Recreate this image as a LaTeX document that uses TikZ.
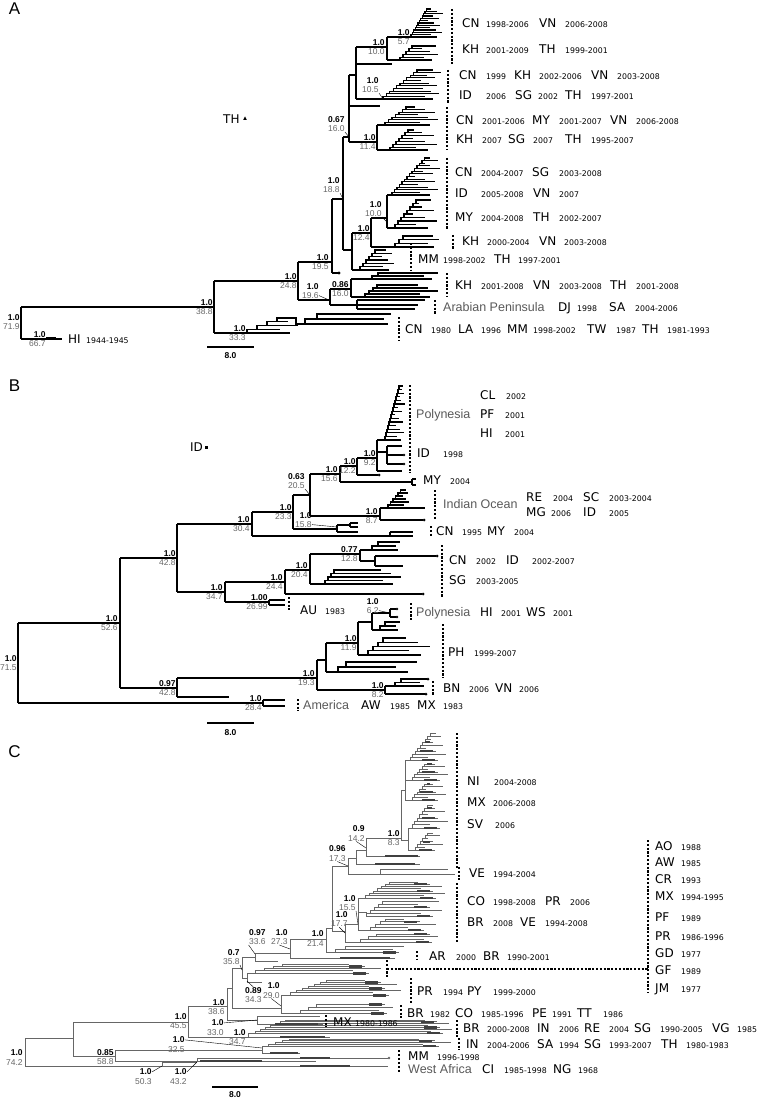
\documentclass[tikz,border=0pt]{standalone}
\usepackage{fontspec}
\setmainfont{Liberation Sans}
\newfontfamily\codefont{DejaVu Sans}

\definecolor{agegray}{gray}{0.4}
\definecolor{regiongray}{gray}{0.35}
\definecolor{treegray}{gray}{0.4}
\definecolor{bargray}{gray}{0.25}

\tikzset{
  branch/.style={line width=1.1pt},
  clade/.style={line width=1.1pt, dash pattern=on 2.2pt off 1.6pt},
  leader/.style={line width=0.4pt},
  code/.style={font=\codefont\fontsize{12}{12}\selectfont, anchor=base west, inner sep=0pt},
  year/.style={font=\codefont\fontsize{7.8}{8}\selectfont, anchor=base west, inner sep=0pt},
  region/.style={font=\fontsize{12.5}{13}\selectfont, text=regiongray, anchor=base west, inner sep=0pt},
  pp/.style={font=\bfseries\fontsize{8.5}{9}\selectfont, anchor=south east, inner sep=0.2pt},
  age/.style={font=\fontsize{8.5}{9}\selectfont, text=agegray, anchor=north east, inner sep=0.2pt},
  panel/.style={font=\fontsize{17}{17}\selectfont, inner sep=0pt},
  scalelbl/.style={font=\bfseries\fontsize{8.5}{9}\selectfont, inner sep=0pt}
}

\newcommand{\supp}[5]{%
  \node[pp] (#1) at (#2,#3-1.2) {#4};
  \node[age] (#1b) at (#2,#3+1.2) {#5};}

\newcommand{\row}[3]{%
  \foreach \px/\pc/\qx/\qy [count=\i] in {#3}{%
    \node[code] (#1c\i) at (\px,#2+4.4) {\pc};
    \node[year] (#1y\i) at (\qx,#2+4.4) {\qy};}}

\newcommand{\ladder}[8]{%
  \pgfmathsetmacro{\ldy}{(#3-#2)/(#4-1)}%
  \foreach \k in {1,...,#4}{%
    \pgfmathsetmacro{\lx}{#1+(\k-1)*#5}%
    \pgfmathsetmacro{\ly}{#2+(\k-1)*\ldy}%
    \pgfmathsetmacro{\lt}{max(\lx+3,#6-mod(\k*37,11)*#7/10)}%
    \draw[branch] (\lx,\ly) -- (\lt,\ly);
    \ifnum\k<#4\relax
      \draw[branch] (\lx,\ly) -- (\lx,\ly+\ldy) -- (\lx+#5,\ly+\ldy);
    \fi
    \pgfmathtruncatemacro{\lm}{mod(\k,3)}%
    \pgfmathsetmacro{\lb}{max(\lx,\lt-16)}%
    \ifdim #8pt>0pt\ifnum\lm=1\relax
      \draw[line width=#8pt, bargray] (\lb,\ly) -- (\lt-3,\ly);
    \fi\fi}}

\begin{document}
\begin{tikzpicture}[x=1pt,y=1pt,yscale=-1]
\useasboundingbox (0,0) rectangle (756,1099);

% A
\node[panel] (pA) at (14.5,9) {A};
\begin{scope}[branch/.style={line width=1.1pt}]
\draw[branch] (21,307) -- (21,339);
\draw[branch] (21,307) -- (214,307);
\draw[branch] (21,339) -- (62,339);
\draw[branch, line width=2.4pt] (46,338) -- (56,338);
\draw[branch] (214,281) -- (214,333);
\draw[branch] (214,333) -- (247,333);
\ladder{247}{333}{318}{5}{10}{300}{25}{0}
\draw[branch] (287,318) -- (296,318) -- (296,324) -- (305,324);
\ladder{305}{324}{314}{3}{12}{392}{10}{0}
\draw[branch] (214,281) -- (298,281);
\draw[branch] (298,262) -- (298,300);
\draw[branch] (298,300) -- (330,300);
\draw[branch] (330,289) -- (330,305);
\draw[branch] (330,305) -- (418,305);
\draw[branch] (357,300) -- (357,309);
\draw[branch] (357,300) -- (425,300);
\draw[branch] (357,309) -- (415,309);
\draw[branch] (330,289) -- (351,289);
\draw[branch] (351,279) -- (351,297);
\draw[branch] (351,279) -- (372,279);
\ladder{372}{279}{273}{3}{6}{440}{20}{0}
\draw[branch] (351,297) -- (365,297);
\ladder{365}{297}{285}{5}{4}{440}{25}{0}
\draw[branch] (298,262) -- (332,262);
\draw[branch] (332,199) -- (332,273);
\draw[branch] (332,273) -- (338,273);
\fill (339,273) circle (1.6pt);
\draw[branch] (332,199) -- (343,199);
\draw[branch] (343,137) -- (343,250);
\draw[branch] (343,137) -- (349,137);
\draw[branch] (349,75) -- (349,142);
\draw[branch] (349,106) -- (380,106);
\draw[branch] (349,75) -- (356,75);
\draw[branch] (356,47) -- (356,99);
\draw[branch] (356,64) -- (392,64);
\draw[branch] (356,47) -- (387,47);
\draw[branch] (387,37) -- (387,60);
\draw[branch] (387,37) -- (411,37);
\ladder{411}{37}{9}{13}{1.4}{443}{15}{0}
\draw[branch] (387,60) -- (400,60);
\ladder{400}{60}{46}{6}{3}{440}{20}{0}
\draw[branch] (356,99) -- (383,99);
\ladder{383}{99}{70}{12}{3.4}{441}{20}{0}
\draw[branch] (349,142) -- (377,142);
\draw[branch] (377,125) -- (377,150);
\draw[branch] (377,125) -- (385,125);
\ladder{385}{125}{107}{8}{3.5}{440}{25}{0}
\draw[branch] (377,150) -- (390,150);
\ladder{390}{150}{130}{8}{3}{440}{30}{0}
\draw[branch] (343,250) -- (352,250);
\draw[branch] (352,233) -- (352,270);
\draw[branch] (352,233) -- (371,233);
\draw[branch] (371,218) -- (371,247);
\draw[branch] (371,218) -- (387,218);
\draw[branch] (387,195) -- (387,228);
\draw[branch] (387,195) -- (392,195);
\ladder{392}{195}{158}{15}{2.5}{440}{25}{0}
\draw[branch] (387,228) -- (395,228);
\ladder{395}{228}{200}{9}{3}{440}{30}{0}
\draw[branch] (371,247) -- (395,247);
\ladder{395}{247}{236}{4}{4}{440}{15}{0}
\draw[branch] (352,270) -- (360,270);
\ladder{360}{270}{250}{7}{3}{395}{15}{0}
\end{scope}

\supp{a719}{20}{322}{1.0}{71.9}
\supp{a667}{46}{339}{1.0}{66.7}
\supp{a388}{213}{307}{1.0}{38.8}
\supp{a333}{246}{333}{1.0}{33.3}
\supp{a248}{297}{281}{1.0}{24.8}
\supp{a195}{329}{262}{1.0}{19.5}
\supp{a196}{319}{291}{1.0}{19.6}
\supp{a086}{349}{289}{0.86}{16.0}
\supp{a188}{340}{185}{1.0}{18.8}
\supp{a067}{345}{124}{0.67}{16.0}
\supp{a100}{385}{47}{1.0}{10.0}
\supp{a057}{410}{37.5}{1.0}{5.7}
\supp{a105}{379}{85}{1.0}{10.5}
\supp{a114}{376}{142}{1.0}{11.4}
\supp{a4n}{382}{209}{1.0}{10.0}
\supp{a124}{370}{233}{1.0}{12.4}
\coordinate (n196) at (329,300);
\coordinate (n188) at (343,199);
\coordinate (n067) at (349,137);
\coordinate (n105) at (383,99);
\coordinate (n4n) at (387,222);
\draw[leader] (a196b.east) -- (n196);
\draw[leader] (a188b.south east) -- (n188);
\draw[leader] (a067b.south east) -- (n067);
\draw[leader] (a105b.south east) -- (n105);
\draw[leader] (a4nb.south east) -- (n4n);

\node[code] (thmark) at (223,123.4) {TH};
\fill (245,116.5) -- (246.8,120) -- (243.2,120) -- cycle;

\draw[clade] (452,9) -- (452,65);
\draw[clade] (448,70) -- (448,103);
\draw[clade] (447,107) -- (447,150);
\draw[clade] (447,158) -- (447,229);
\draw[clade] (453,235) -- (453,249);
\draw[clade] (411,243) -- (411,270);
\draw[clade] (447,273) -- (447,297);
\draw[clade] (435,300) -- (435,315);
\draw[clade] (399,317) -- (399,340);

\row{ra1}{23}{462/CN/486/1998-2006, 539/VN/565/2006-2008}
\row{ra1b}{49}{462/KH/486/2001-2009, 539/TH/565/1999-2001}
\row{ra2}{75}{459/CN/486/1999, 514/KH/539/2002-2006, 591/VN/617/2003-2008}
\row{ra2b}{95}{459/ID/486/2006, 515/SG/538/2002, 565/TH/591/1997-2001}
\row{ra3}{120}{456/CN/482/2001-2006, 532/MY/559/2001-2007, 610/VN/636/2006-2008}
\row{ra3b}{139}{456/KH/482/2007, 508/SG/533/2007, 565/TH/591/1995-2007}
\row{ra4}{172}{455/CN/481/2004-2007, 532/SG/559/2003-2008}
\row{ra4b}{193}{455/ID/481/2005-2008, 533/VN/559/2007}
\row{ra4c}{217}{455/MY/481/2004-2008, 533/TH/559/2002-2007}
\row{ra5}{241}{462/KH/487/2000-2004, 539/VN/564/2003-2008}
\row{ra6}{259}{418/MM/443/1998-2002, 494/TH/518/1997-2001}
\row{ra7}{285}{455/KH/481/2001-2008, 533/VN/559/2003-2008, 610/TH/636/2001-2008}
\node[region] (arab) at (443,311.4) {Arabian Peninsula};
\row{ra8}{307}{558/DJ/577/1998, 609/SA/635/2004-2006}
\row{ra9}{329}{405/CN/431/1980, 458/LA/481/1996, 507/MM/533/1998-2002, 587/TW/616/1987, 642/TH/667/1981-1993}
\row{rahi}{339}{68/HI/86/1944-1945}

\draw[line width=1.2pt] (207,347) -- (254,347);
\node[scalelbl] (sA) at (230.5,356) {8.0};

% B
\node[panel] (pB) at (14.5,386) {B};
\begin{scope}[branch/.style={line width=1.2pt}]
\draw[branch] (18,623) -- (18,703);
\draw[branch] (18,623) -- (120,623);
\draw[branch] (120,558) -- (120,688);
\draw[branch] (18,703) -- (263,703);
\draw[branch] (263,700) -- (263,706);
\draw[branch] (263,700) -- (285,700);
\draw[branch] (263,706) -- (285,706);
\draw[branch] (120,558) -- (177,558);
\draw[branch] (177,524) -- (177,592);
\draw[branch] (120,688) -- (177,688);
\draw[branch] (177,678) -- (177,697);
\draw[branch] (177,697) -- (229,697);
\draw[branch] (177,678) -- (317,678);
\draw[branch] (317,660) -- (317,690);
\draw[branch] (317,690) -- (385,690);
\draw[branch] (385,686) -- (385,694);
\draw[branch] (385,686) -- (395,686);
\ladder{395}{686}{679}{3}{6}{428}{10}{0}
\draw[branch] (385,694) -- (425,694);
\fill (426,694) circle (1.5pt);
\fill (428,679) circle (1.5pt);
\draw[branch] (317,660) -- (326,660);
\draw[branch] (326,643) -- (326,672);
\draw[branch] (326,643) -- (358,643);
\draw[branch] (358,622) -- (358,655);
\draw[branch] (358,622) -- (372,622);
\draw[branch] (372,613) -- (372,630);
\draw[branch] (372,613) -- (390,613);
\draw[branch] (390,609) -- (390,617);
\draw[branch] (390,609) -- (396,609);
\draw[branch] (390,617) -- (396,617);
\fill (397,609) circle (1.4pt);
\fill (397,617) circle (1.4pt);
\draw[branch] (372,630) -- (380,630);
\ladder{380}{630}{622}{3}{5}{400}{5}{0}
\draw[branch] (358,655) -- (368,655);
\ladder{368}{655}{638}{5}{5}{433}{30}{0}
\draw[branch] (326,672) -- (338,672);
\ladder{338}{672}{662}{3}{8}{420}{30}{0}
\draw[branch] (177,524) -- (252,524);
\draw[branch] (252,512) -- (252,536);
\draw[branch] (252,536) -- (390,536);
\draw[branch] (390,532) -- (390,536);
\draw[branch] (390,532) -- (413,532);
\draw[branch] (390,536) -- (413,536);
\draw[branch] (252,512) -- (293,512);
\draw[branch] (293,495) -- (293,529);
\draw[branch] (293,529) -- (337,529);
\draw[branch] (337,525) -- (337,532);
\draw[branch] (337,525) -- (350,525);
\draw[branch] (350,523) -- (350,527);
\draw[branch] (350,523) -- (358,523);
\draw[branch] (350,527) -- (358,527);
\draw[branch] (337,532) -- (358,532);
\draw[branch] (293,495) -- (310,495);
\draw[branch] (310,474) -- (310,516);
\draw[branch] (310,516) -- (380,516);
\draw[branch] (380,508) -- (380,520);
\draw[branch] (380,520) -- (423,520);
\fill (424,520) circle (1.5pt);
\draw[branch] (380,508) -- (425,508);
\ladder{388}{508}{490}{7}{2.5}{410}{8}{0}
\draw[branch] (310,474) -- (340,474);
\draw[branch] (340,466) -- (340,482);
\draw[branch] (340,482) -- (412,482);
\draw[branch] (412,479) -- (412,485);
\draw[branch] (412,479) -- (416,479);
\draw[branch] (412,485) -- (416,485);
\draw[branch] (340,466) -- (357,466);
\draw[branch] (357,458) -- (357,475);
\draw[branch] (357,475) -- (378,475);
\fill (379,475) circle (1.5pt);
\draw[branch] (357,458) -- (377,458);
\draw[branch] (377,440) -- (377,471);
\draw[branch] (377,471) -- (402,471);
\draw[branch] (377,440) -- (385,440);
\ladder{385}{440}{386}{16}{1}{405}{10}{0}
\draw[branch] (377,452) -- (387,452);
\draw[branch] (387,446) -- (387,464);
\draw[branch] (387,446) -- (402,446);
\draw[branch] (387,455) -- (403,455);
\draw[branch] (387,464) -- (403,464);
\fill (404,455) circle (1.4pt);
\fill (404,464) circle (1.4pt);
\draw[branch] (177,592) -- (225,592);
\draw[branch] (225,582) -- (225,602);
\draw[branch] (225,602) -- (269,602);
\draw[branch] (269,600) -- (269,605);
\draw[branch] (269,600) -- (285,600);
\draw[branch] (269,605) -- (285,605);
\draw[branch] (225,582) -- (285,582);
\draw[branch] (285,570) -- (285,594);
\draw[branch] (285,594) -- (422,594);
\fill (423,594) circle (1.5pt);
\draw[branch] (285,570) -- (310,570);
\draw[branch] (310,554) -- (310,584);
\draw[branch] (310,554) -- (360,554);
\draw[branch] (360,550) -- (360,561);
\draw[branch] (360,550) -- (372,550);
\ladder{372}{550}{542}{3}{6}{400}{5}{0}
\draw[branch] (360,561) -- (375,561);
\draw[branch] (375,556) -- (375,566);
\draw[branch] (375,556) -- (436,556);
\fill (437,556) circle (1.5pt);
\draw[branch] (375,566) -- (403,566);
\draw[branch] (310,584) -- (325,584);
\ladder{325}{584}{570}{5}{3}{403}{25}{0}
\end{scope}

\supp{b715}{17}{663}{1.0}{71.5}
\supp{b526}{118}{623}{1.0}{52.6}
\supp{b284}{262}{703}{1.0}{28.4}
\supp{b428}{176}{558}{1.0}{42.8}
\supp{b097}{176}{688}{0.97}{42.8}
\supp{b193}{315}{678}{1.0}{19.3}
\supp{b304}{250}{524}{1.0}{30.4}
\supp{b233}{292}{512}{1.0}{23.3}
\supp{b158}{312}{520}{1.0}{15.8}
\supp{b063}{305}{481}{0.63}{20.5}
\supp{b156}{338}{474}{1.0}{15.6}
\supp{b122}{356}{466}{1.0}{12.2}
\supp{b092}{376}{458}{1.0}{9.2}
\supp{b087}{378}{516}{1.0}{8.7}
\supp{b347}{223}{592}{1.0}{34.7}
\supp{b2699}{268}{602}{1.00}{26.99}
\supp{b244}{283}{582}{1.0}{24.4}
\supp{b204}{308}{570}{1.0}{20.4}
\supp{b077}{358}{554}{0.77}{12.8}
\supp{b119}{357}{643}{1.0}{11.9}
\supp{b062}{379}{606}{1.0}{6.2}
\supp{b082}{384}{690}{1.0}{8.2}
\coordinate (m158) at (337,527);
\coordinate (m063) at (310,495);
\coordinate (m062) at (390,613);
\draw[leader] (b158b.east) -- (m158);
\draw[leader] (b063b.south east) -- (m063);
\draw[leader] (b062b.east) -- (m062);

\node[code] (idmark) at (190,451.4) {ID};
\fill (204.5,445.5) rectangle (207.5,448.5);

\draw[clade] (410,385) -- (410,473);
\draw[clade] (435,490) -- (435,520);
\draw[clade] (431,526) -- (431,537);
\draw[clade] (442,545) -- (442,598);
\draw[clade] (289,597) -- (289,610);
\draw[clade] (411,603) -- (411,620);
\draw[clade] (443,624) -- (443,678);
\draw[clade] (433,681) -- (433,695);
\draw[clade] (298,699) -- (298,711);

\row{rb1}{395}{480/CL/506/2002}
\node[region] (poly1) at (416,418.4) {Polynesia};
\row{rb2}{414}{480/PF/505/2001}
\row{rb3}{433}{480/HI/505/2001}
\row{rb4}{453}{417/ID/443/1998}
\row{rb5}{480}{423/MY/450/2004}
\node[region] (indoc) at (443,508.4) {Indian Ocean};
\row{rb6}{497}{526/RE/553/2004, 583/SC/609/2003-2004}
\row{rb7}{512}{526/MG/551/2006, 583/ID/609/2005}
\row{rb8}{531}{436/CN/462/1995, 487/MY/514/2004}
\row{rb9}{560}{449/CN/476/2002, 506/ID/532/2002-2007}
\row{rb10}{580}{449/SG/476/2003-2005}
\row{rb11}{610}{300/AU/325/1983}
\node[region] (poly2) at (416,616.4) {Polynesia};
\row{rb12}{612}{480/HI/501/2001, 526/WS/553/2001}
\row{rb13}{652}{448/PH/474/1999-2007}
\row{rb14}{688}{443/BN/469/2006, 495/VN/519/2006}
\node[region] (amer) at (303,709.4) {America};
\row{rb15}{705}{361/AW/390/1985, 417/MX/443/1983}

\draw[line width=1.2pt] (207,723) -- (254,723);
\node[scalelbl] (sB) at (230.5,733) {8.0};

% C
\node[panel] (pC) at (14.5,752) {C};
\begin{scope}[branch/.style={line width=0.75pt, treegray}]
\draw[branch] (25,1038) -- (25,1066);
\draw[branch] (25,1038) -- (73,1038);
\draw[branch] (73,1022) -- (73,1056);
\draw[branch] (25,1066) -- (388,1066);
\draw[line width=2.2pt, bargray] (300,1066) -- (350,1066);
\draw[branch] (162,1062) -- (162,1066);
\draw[branch] (162,1062) -- (197,1062);
\draw[branch] (197,1058) -- (197,1062);
\draw[branch] (197,1058) -- (388,1058);
\fill[treegray] (389,1058) circle (1.4pt);
\draw[line width=2.2pt, bargray] (300,1058) -- (330,1058);
\draw[branch] (73,1056) -- (115,1056);
\draw[branch] (115,1050) -- (115,1061);
\draw[branch] (115,1061) -- (316,1061);
\draw[line width=2.2pt, bargray] (200,1061) -- (262,1061);
\draw[branch] (115,1050) -- (262,1050);
\draw[branch] (262,1046) -- (262,1053);
\draw[branch] (262,1053) -- (300,1053);
\draw[line width=2.2pt, bargray] (270,1053) -- (298,1053);
\draw[branch] (262,1046) -- (268,1046);
\ladder{268}{1046}{1039}{5}{7}{455}{40}{2.5}
\draw[branch] (73,1022) -- (188,1022);
\draw[branch] (188,1006) -- (188,1037);
\draw[branch] (188,1037) -- (248,1037);
\draw[branch] (248,1033) -- (248,1037);
\draw[branch] (248,1037) -- (330,1037);
\draw[line width=2.2pt, bargray] (280,1037) -- (325,1037);
\draw[branch] (248,1033) -- (255,1033);
\ladder{255}{1033}{1020}{8}{5}{455}{30}{2.5}
\draw[branch] (188,1006) -- (227,1006);
\draw[branch] (227,988) -- (227,1020);
\draw[branch] (227,1020) -- (257,1020);
\draw[branch] (257,1016) -- (257,1024);
\draw[branch] (257,1016) -- (320,1016);
\draw[branch] (257,1024) -- (323,1024);
\draw[line width=2.2pt, bargray] (275,1024) -- (318,1024);
\draw[branch] (227,988) -- (232,988);
\draw[branch] (232,968) -- (232,1008);
\draw[branch] (232,1008) -- (281,1008);
\draw[branch] (281,995) -- (281,1013);
\draw[branch] (281,995) -- (290,995);
\ladder{290}{995}{980}{8}{6}{405}{40}{3}
\draw[branch] (281,1013) -- (300,1013);
\ladder{300}{1013}{1004}{4}{8}{395}{20}{3}
\draw[branch] (232,968) -- (242,968);
\draw[branch] (242,957) -- (242,978);
\draw[branch] (242,978) -- (247,978);
\draw[branch] (247,973) -- (247,982);
\draw[branch] (247,973) -- (255,973);
\ladder{255}{973}{964}{5}{9}{385}{40}{3}
\draw[branch] (247,982) -- (262,982);
\draw[branch] (242,957) -- (255,957);
\draw[branch] (255,953) -- (255,961);
\draw[branch] (255,961) -- (278,961);
\draw[branch] (255,953) -- (290,953);
\draw[branch] (290,939) -- (290,958);
\draw[branch] (290,958) -- (395,958);
\draw[line width=2.2pt, bargray] (340,958) -- (390,958);
\draw[branch] (290,939) -- (326,939);
\draw[branch] (326,928) -- (326,952);
\draw[branch] (326,952) -- (335,952);
\ladder{335}{952}{946}{3}{10}{405}{15}{3}
\draw[branch] (326,928) -- (332,928);
\draw[branch] (332,866) -- (332,931);
\draw[branch] (332,931) -- (345,931);
\draw[branch] (345,924) -- (345,942);
\draw[branch] (345,942) -- (360,942);
\ladder{360}{942}{934}{4}{8}{440}{20}{2.5}
\draw[branch] (345,924) -- (358,924);
\draw[branch] (358,898) -- (358,930);
\draw[branch] (358,898) -- (365,898);
\ladder{365}{898}{882}{8}{4}{448}{30}{2}
\draw[branch] (358,912) -- (366,912);
\ladder{366}{916}{901}{6}{4}{445}{30}{2}
\draw[branch] (366,912) -- (366,916);
\draw[branch] (358,930) -- (370,930);
\ladder{370}{930}{919}{5}{5}{440}{40}{2.5}
\draw[branch] (332,866) -- (348,866);
\draw[branch] (348,858) -- (348,874);
\draw[branch] (348,874) -- (455,874);
\draw[branch] (380,869) -- (380,874);
\draw[branch] (380,869) -- (448,869);
\draw[branch] (348,858) -- (356,858);
\draw[branch] (356,850) -- (356,864);
\draw[branch] (356,864) -- (420,864);
\draw[line width=2.2pt, bargray] (375,864) -- (415,864);
\draw[branch] (356,850) -- (366,850);
\draw[branch] (366,838) -- (366,856);
\draw[branch] (366,856) -- (420,856);
\draw[line width=2.2pt, bargray] (385,856) -- (418,856);
\draw[branch] (366,838) -- (401,838);
\draw[branch] (401,790) -- (401,840);
\draw[branch] (401,790) -- (405,790);
\draw[branch] (405,760) -- (405,800);
\draw[branch] (405,760) -- (410,760);
\ladder{410}{760}{733}{10}{2.5}{448}{25}{2}
\draw[branch] (405,780) -- (412,780);
\ladder{412}{780}{764}{7}{2.5}{450}{25}{2}
\draw[branch] (405,800) -- (412,800);
\ladder{412}{800}{784}{7}{2.5}{448}{25}{2}
\draw[branch] (401,840) -- (408,840);
\draw[branch] (408,828) -- (408,850);
\draw[branch] (408,828) -- (412,828);
\ladder{412}{828}{805}{8}{2.5}{450}{25}{2}
\draw[branch] (408,850) -- (415,850);
\ladder{415}{850}{833}{7}{2.5}{445}{25}{2}
\end{scope}

\supp{c742}{23}{1057.5}{1.0}{74.2}
\supp{c085}{114}{1057}{0.85}{58.8}
\supp{c455}{187}{1021}{1.0}{45.5}
\supp{c386}{225}{1007}{1.0}{38.6}
\supp{c330}{224}{1027.5}{1.0}{33.0}
\supp{c347}{246}{1037}{1.0}{34.7}
\supp{c325}{185}{1044.5}{1.0}{32.5}
\supp{c503}{152}{1076.5}{1.0}{50.3}
\supp{c432}{187}{1076.5}{1.0}{43.2}
\supp{c089}{262}{995}{0.89}{34.3}
\supp{c290}{280}{990.5}{1.0}{29.0}
\supp{c358}{240}{957}{0.7}{35.8}
\supp{c336}{266}{937}{0.97}{33.6}
\supp{c273}{288}{937}{1.0}{27.3}
\supp{c214}{324}{938.5}{1.0}{21.4}
\supp{c177}{348}{919.5}{1.0}{17.7}
\supp{c155}{356}{903}{1.0}{15.5}
\supp{c173}{346}{853.5}{0.96}{17.3}
\supp{c142}{365}{833.5}{0.9}{14.2}
\supp{c083}{400}{838}{1.0}{8.3}
\coordinate (k330) at (257,1020);
\coordinate (k325) at (262,1048);
\coordinate (k503) at (162,1066);
\coordinate (k432) at (197,1062);
\coordinate (k089) at (247,981);
\coordinate (k290) at (281,1006);
\coordinate (k358) at (242,970);
\coordinate (k336) at (255,954);
\coordinate (k273) at (290,949);
\coordinate (k177) at (345,933);
\coordinate (k155) at (358,924);
\coordinate (k173) at (348,866);
\coordinate (k142) at (366,848);
\draw[leader] (c330.east) -- (k330);
\draw[leader] (c325.east) -- (k325);
\draw[leader] (c503.east) -- (k503);
\draw[leader] (c432.east) -- (k432);
\draw[leader] (c089.north) -- (k089);
\draw[leader] (c290b.south) -- (k290);
\draw[leader] (c358b.south east) -- (k358);
\draw[leader] (c336b.south west) -- (k336);
\draw[leader] (c273b.south) -- (k273);
\draw[leader] (c177b.south) -- (k177);
\draw[leader] (c155b.south east) -- (k155);
\draw[leader] (c173b.south) -- (k173);
\draw[leader] (c142b.south) -- (k142);

\draw[clade] (457,733) -- (457,868);
\draw[clade] (459,867) -- (459,880);
\draw[clade] (457,883) -- (457,943);
\draw[clade] (417,951) -- (417,960);
\draw[clade] (648,840) -- (648,993);
\draw[clade] (387,960) -- (387,978);
\coordinate (gfa) at (387,969);
\coordinate (gfb) at (648,969);
\draw[clade] (gfa) -- (gfb);
\draw[clade] (411,978) -- (411,1003);
\draw[clade] (401,1005) -- (401,1018);
\draw[clade] (326,1015) -- (326,1027);
\draw[clade] (457,1020) -- (457,1037);
\draw[clade] (459,1038) -- (459,1050);
\draw[clade] (399,1050) -- (399,1060);
\draw[clade] (399,1062) -- (399,1072);

\row{rc1}{781}{467/NI/494/2004-2008}
\row{rc2}{802}{467/MX/493/2006-2008}
\row{rc3}{824}{467/SV/495/2006}
\row{rc4}{873}{469/VE/493/1994-2004}
\row{rc5}{901}{467/CO/493/1998-2008, 545/PR/570/2006}
\row{rc6}{922}{467/BR/493/2008, 520/VE/545/1994-2008}
\row{rc7}{956}{429/AR/456/2000, 483/BR/507/1990-2001}
\row{rr1}{846}{655/AO/681/1988}
\row{rr2}{862}{655/AW/681/1985}
\row{rr3}{879}{655/CR/681/1993}
\row{rr4}{896}{655/MX/681/1994-1995}
\row{rr5}{917}{655/PF/681/1989}
\row{rr6}{936}{655/PR/681/1986-1996}
\row{rr7}{953}{655/GD/681/1977}
\row{rr8}{970}{655/GF/681/1989}
\row{rr9}{988}{655/JM/681/1977}
\row{rc8}{991}{417/PR/443/1994, 467/PY/493/1999-2000}
\row{rc9}{1013}{407/BR/430/1982, 455/CO/481/1985-1996, 532/PE/552/1991, 577/TT/603/1986}
\row{rc10}{1022}{333/MX/355/1980-1986}
\row{rc11}{1028}{463/BR/487/2000-2008, 537/IN/559/2006, 584/RE/609/2004, 634/SG/660/1990-2005, 712/VG/737/1985}
\row{rc12}{1044}{466/IN/487/2004-2006, 537/SA/559/1994, 584/SG/609/1993-2007, 661/TH/686/1980-1983}
\row{rc13}{1056}{408/MM/437/1996-1998}
\node[region] (wafr) at (408,1073.4) {West Africa};
\row{rc14}{1069}{482/CI/504/1985-1998, 553/NG/578/1968}

\draw[line width=1.2pt] (212,1087) -- (258,1087);
\node[scalelbl] (sC) at (235,1095) {8.0};
\end{tikzpicture}
\end{document}
